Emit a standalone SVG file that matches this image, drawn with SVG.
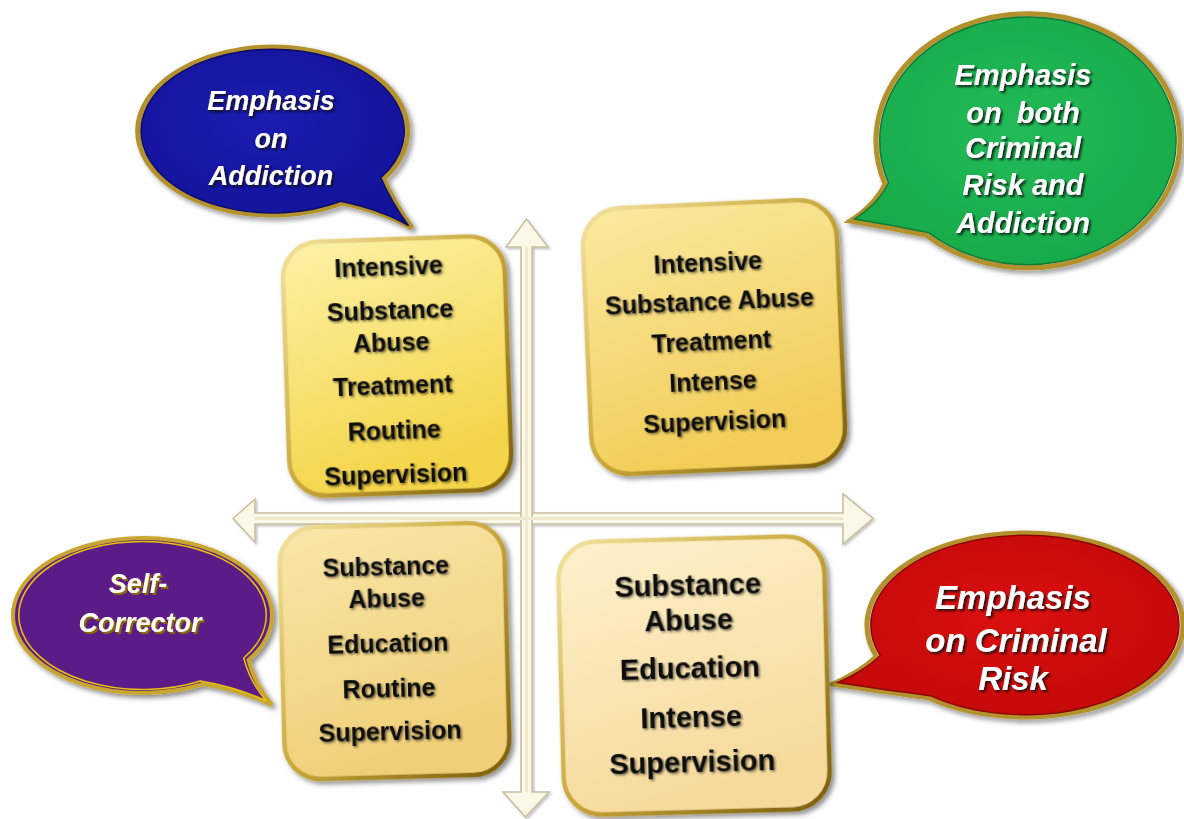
<svg xmlns="http://www.w3.org/2000/svg" width="1184" height="819" viewBox="0 0 1184 819">
  <style>
    .box-text { font-family: "Liberation Sans", Arial, sans-serif; font-weight: bold; fill: #111; text-anchor: middle; }
    .bubble-text { font-family: "Liberation Sans", Arial, sans-serif; font-weight: bold; font-style: italic; fill: #ffffff; text-anchor: middle; }
    .arrow { fill: #fbf8e8; stroke: #c8c0a2; stroke-width: 1.6; stroke-linejoin: miter; }
    .rim { fill: none; stroke: #b3922f; stroke-width: 5; }
    .box-frame { stroke: url(#goldStroke); stroke-width: 4.5; }
  </style>
  <defs>
    <linearGradient id="goldStroke" x1="0" y1="0" x2="1" y2="1">
      <stop offset="0" stop-color="#f3e3a0"/>
      <stop offset="0.5" stop-color="#c9a73a"/>
      <stop offset="1" stop-color="#7a5c0c"/>
    </linearGradient>
    <linearGradient id="fillTL" x1="0" y1="0" x2="0.3" y2="1">
      <stop offset="0" stop-color="#fcf2a6"/>
      <stop offset="1" stop-color="#f4d448"/>
    </linearGradient>
    <linearGradient id="fillTR" x1="0" y1="0" x2="0.3" y2="1">
      <stop offset="0" stop-color="#fae9a0"/>
      <stop offset="1" stop-color="#f2cd58"/>
    </linearGradient>
    <linearGradient id="fillBL" x1="0" y1="0" x2="0.3" y2="1">
      <stop offset="0" stop-color="#f9e6a8"/>
      <stop offset="1" stop-color="#f0cf78"/>
    </linearGradient>
    <linearGradient id="fillBR" x1="0" y1="0" x2="0.3" y2="1">
      <stop offset="0" stop-color="#fdf1cc"/>
      <stop offset="1" stop-color="#f6da9c"/>
    </linearGradient>
    <radialGradient id="fillBlue" cx="0.45" cy="0.4" r="0.65">
      <stop offset="0" stop-color="#1c1cb0"/>
      <stop offset="1" stop-color="#12129a"/>
    </radialGradient>
    <radialGradient id="fillGreen" cx="0.5" cy="0.45" r="0.65">
      <stop offset="0" stop-color="#22bb58"/>
      <stop offset="1" stop-color="#16a848"/>
    </radialGradient>
    <radialGradient id="fillRed" cx="0.5" cy="0.45" r="0.65">
      <stop offset="0" stop-color="#da1010"/>
      <stop offset="1" stop-color="#c20808"/>
    </radialGradient>
    <filter id="softShadow" x="-10%" y="-10%" width="125%" height="125%">
      <feDropShadow dx="3" dy="3" stdDeviation="2.5" flood-color="#000" flood-opacity="0.45"/>
    </filter>
    <filter id="lightShadow" x="-10%" y="-10%" width="125%" height="125%">
      <feDropShadow dx="1.5" dy="1.5" stdDeviation="1.2" flood-color="#000" flood-opacity="0.25"/>
    </filter>
    <filter id="textShadow" x="-10%" y="-20%" width="125%" height="150%">
      <feDropShadow dx="1.5" dy="1.5" stdDeviation="0.8" flood-color="#000" flood-opacity="0.55"/>
    </filter>
    <filter id="darkTextShadow" x="-10%" y="-20%" width="125%" height="150%">
      <feDropShadow dx="2" dy="2" stdDeviation="0.8" flood-color="#111" flood-opacity="0.85"/>
    </filter>
    <filter id="goldTextShadow" x="-10%" y="-20%" width="125%" height="150%">
      <feDropShadow dx="2" dy="2" stdDeviation="0.6" flood-color="#8a6a00" flood-opacity="1"/>
    </filter>
  </defs>

  <rect width="1184" height="819" fill="#ffffff"/>

  <!-- axes -->
  <g id="connectors" filter="url(#lightShadow)">
    <polygon class="arrow" points="233,518.5 255,499 255,513 843,513 843,494 873,518.5 843,544 843,524 255,524 255,542"/>
    <polygon class="arrow" points="526.5,219 548,247 532,247 532,792 549,792 525.5,817 503,792 521,792 521,247 506,247"/>
    <line x1="255" y1="518.5" x2="843" y2="518.5" stroke="#efe9d0" stroke-width="3"/>
    <line x1="526.5" y1="247" x2="526.5" y2="792" stroke="#efe9d0" stroke-width="3"/>
  </g>

  <!-- speech bubbles -->
  <g id="bubble-addiction">
    <path filter="url(#softShadow)" class="rim" fill="url(#fillBlue)" d="M 342.5 203 Q 385 212 412 228 Q 395 205 383.6 179 A 135 84 0 1 0 342.5 203 Z"/>
    <path fill="url(#fillBlue)" stroke="#0b0b68" stroke-width="1.5" d="M 342.5 203 Q 385 212 412 228 Q 395 205 383.6 179 A 135 84 0 1 0 342.5 203 Z" transform="translate(273 131) scale(0.975) translate(-273 -131)"/>
    <g class="bubble-text" font-size="27" filter="url(#darkTextShadow)">
      <text x="271" y="110">Emphasis</text>
      <text x="271" y="148">on</text>
      <text x="271" y="185">Addiction</text>
    </g>
  </g>

  <g id="bubble-both">
    <path filter="url(#softShadow)" class="rim" fill="url(#fillGreen)" d="M 926 235 Q 880 226 850 221 Q 875 205 885 184 A 152 127 0 1 1 926 235 Z"/>
    <path fill="url(#fillGreen)" stroke="#0e7a34" stroke-width="1.5" d="M 926 235 Q 880 226 850 221 Q 875 205 885 184 A 152 127 0 1 1 926 235 Z" transform="translate(1028 141) scale(0.975) translate(-1028 -141)"/>
    <g class="bubble-text" font-size="29" filter="url(#darkTextShadow)">
      <text x="1023" y="85">Emphasis</text>
      <text x="1023" y="123" word-spacing="7">on both</text>
      <text x="1023" y="158">Criminal</text>
      <text x="1023" y="195">Risk and</text>
      <text x="1023" y="233">Addiction</text>
    </g>
  </g>

  <g id="bubble-self-corrector">
    <path filter="url(#softShadow)" fill="#5c1f87" stroke="#c9a630" stroke-width="4" d="M 203 684 Q 240 690 272 705 Q 255 685 248.5 660 A 129.5 77.5 0 1 0 203 684 Z"/>
    <path fill="none" stroke="#e8c20a" stroke-width="1.6" d="M 203 684 Q 240 690 272 705 Q 255 685 248.5 660 A 129.5 77.5 0 1 0 203 684 Z" transform="translate(142.5 615.5) scale(0.955) translate(-142.5 -615.5)"/>
    <g class="bubble-text" font-size="27" filter="url(#goldTextShadow)">
      <text x="138" y="593" fill="#fffdf0">Self-</text>
      <text x="140" y="632" fill="#fffdf0">Corrector</text>
    </g>
  </g>

  <g id="bubble-criminal">
    <path filter="url(#softShadow)" class="rim" fill="url(#fillRed)" d="M 927.7 697.5 Q 870 690 833 684 Q 860 672 876.5 656.5 A 158 92 0 1 1 927.7 697.5 Z"/>
    <path fill="url(#fillRed)" stroke="#8a0404" stroke-width="1.5" d="M 927.7 697.5 Q 870 690 833 684 Q 860 672 876.5 656.5 A 158 92 0 1 1 927.7 697.5 Z" transform="translate(1025 625) scale(0.975) translate(-1025 -625)"/>
    <g class="bubble-text" font-size="33" filter="url(#darkTextShadow)">
      <text x="1013" y="609">Emphasis</text>
      <text x="1016" y="652">on Criminal</text>
      <text x="1013" y="690">Risk</text>
    </g>
  </g>

  <!-- quadrant boxes -->
  <g id="box-top-left" transform="rotate(-2 397 366)">
    <rect class="box-frame" x="286" y="239" width="222" height="254" rx="36" fill="url(#fillTL)" filter="url(#softShadow)"/>
    <g class="box-text" font-size="25" filter="url(#textShadow)">
      <text x="392" y="275">Intensive</text>
      <text x="392" y="319">Substance</text>
      <text x="392" y="351">Abuse</text>
      <text x="392" y="394">Treatment</text>
      <text x="392" y="439">Routine</text>
      <text x="392" y="483">Supervision</text>
    </g>
  </g>

  <g id="box-top-right" transform="rotate(-2.5 714 337)">
    <rect class="box-frame" x="587" y="204" width="254" height="266" rx="38" fill="url(#fillTR)" filter="url(#softShadow)"/>
    <g class="box-text" font-size="25" filter="url(#textShadow)">
      <text x="711" y="271">Intensive</text>
      <text x="711" y="310">Substance Abuse</text>
      <text x="711" y="350">Treatment</text>
      <text x="711" y="390">Intense</text>
      <text x="711" y="430">Supervision</text>
    </g>
  </g>

  <g id="box-bottom-left" transform="rotate(-1.5 394 651)">
    <rect class="box-frame" x="282" y="525" width="225" height="252" rx="36" fill="url(#fillBL)" filter="url(#softShadow)"/>
    <g class="box-text" font-size="25" filter="url(#textShadow)">
      <text x="388" y="575">Substance</text>
      <text x="388" y="607">Abuse</text>
      <text x="388" y="652">Education</text>
      <text x="388" y="697">Routine</text>
      <text x="388" y="740">Supervision</text>
    </g>
  </g>

  <g id="box-bottom-right" transform="rotate(-1.5 694 675)">
    <rect class="box-frame" x="561" y="539" width="266" height="273" rx="38" fill="url(#fillBR)" filter="url(#softShadow)"/>
    <g class="box-text" font-size="29" filter="url(#textShadow)">
      <text x="690" y="595">Substance</text>
      <text x="690" y="630">Abuse</text>
      <text x="690" y="678">Education</text>
      <text x="690" y="727">Intense</text>
      <text x="690" y="772">Supervision</text>
    </g>
  </g>
</svg>
